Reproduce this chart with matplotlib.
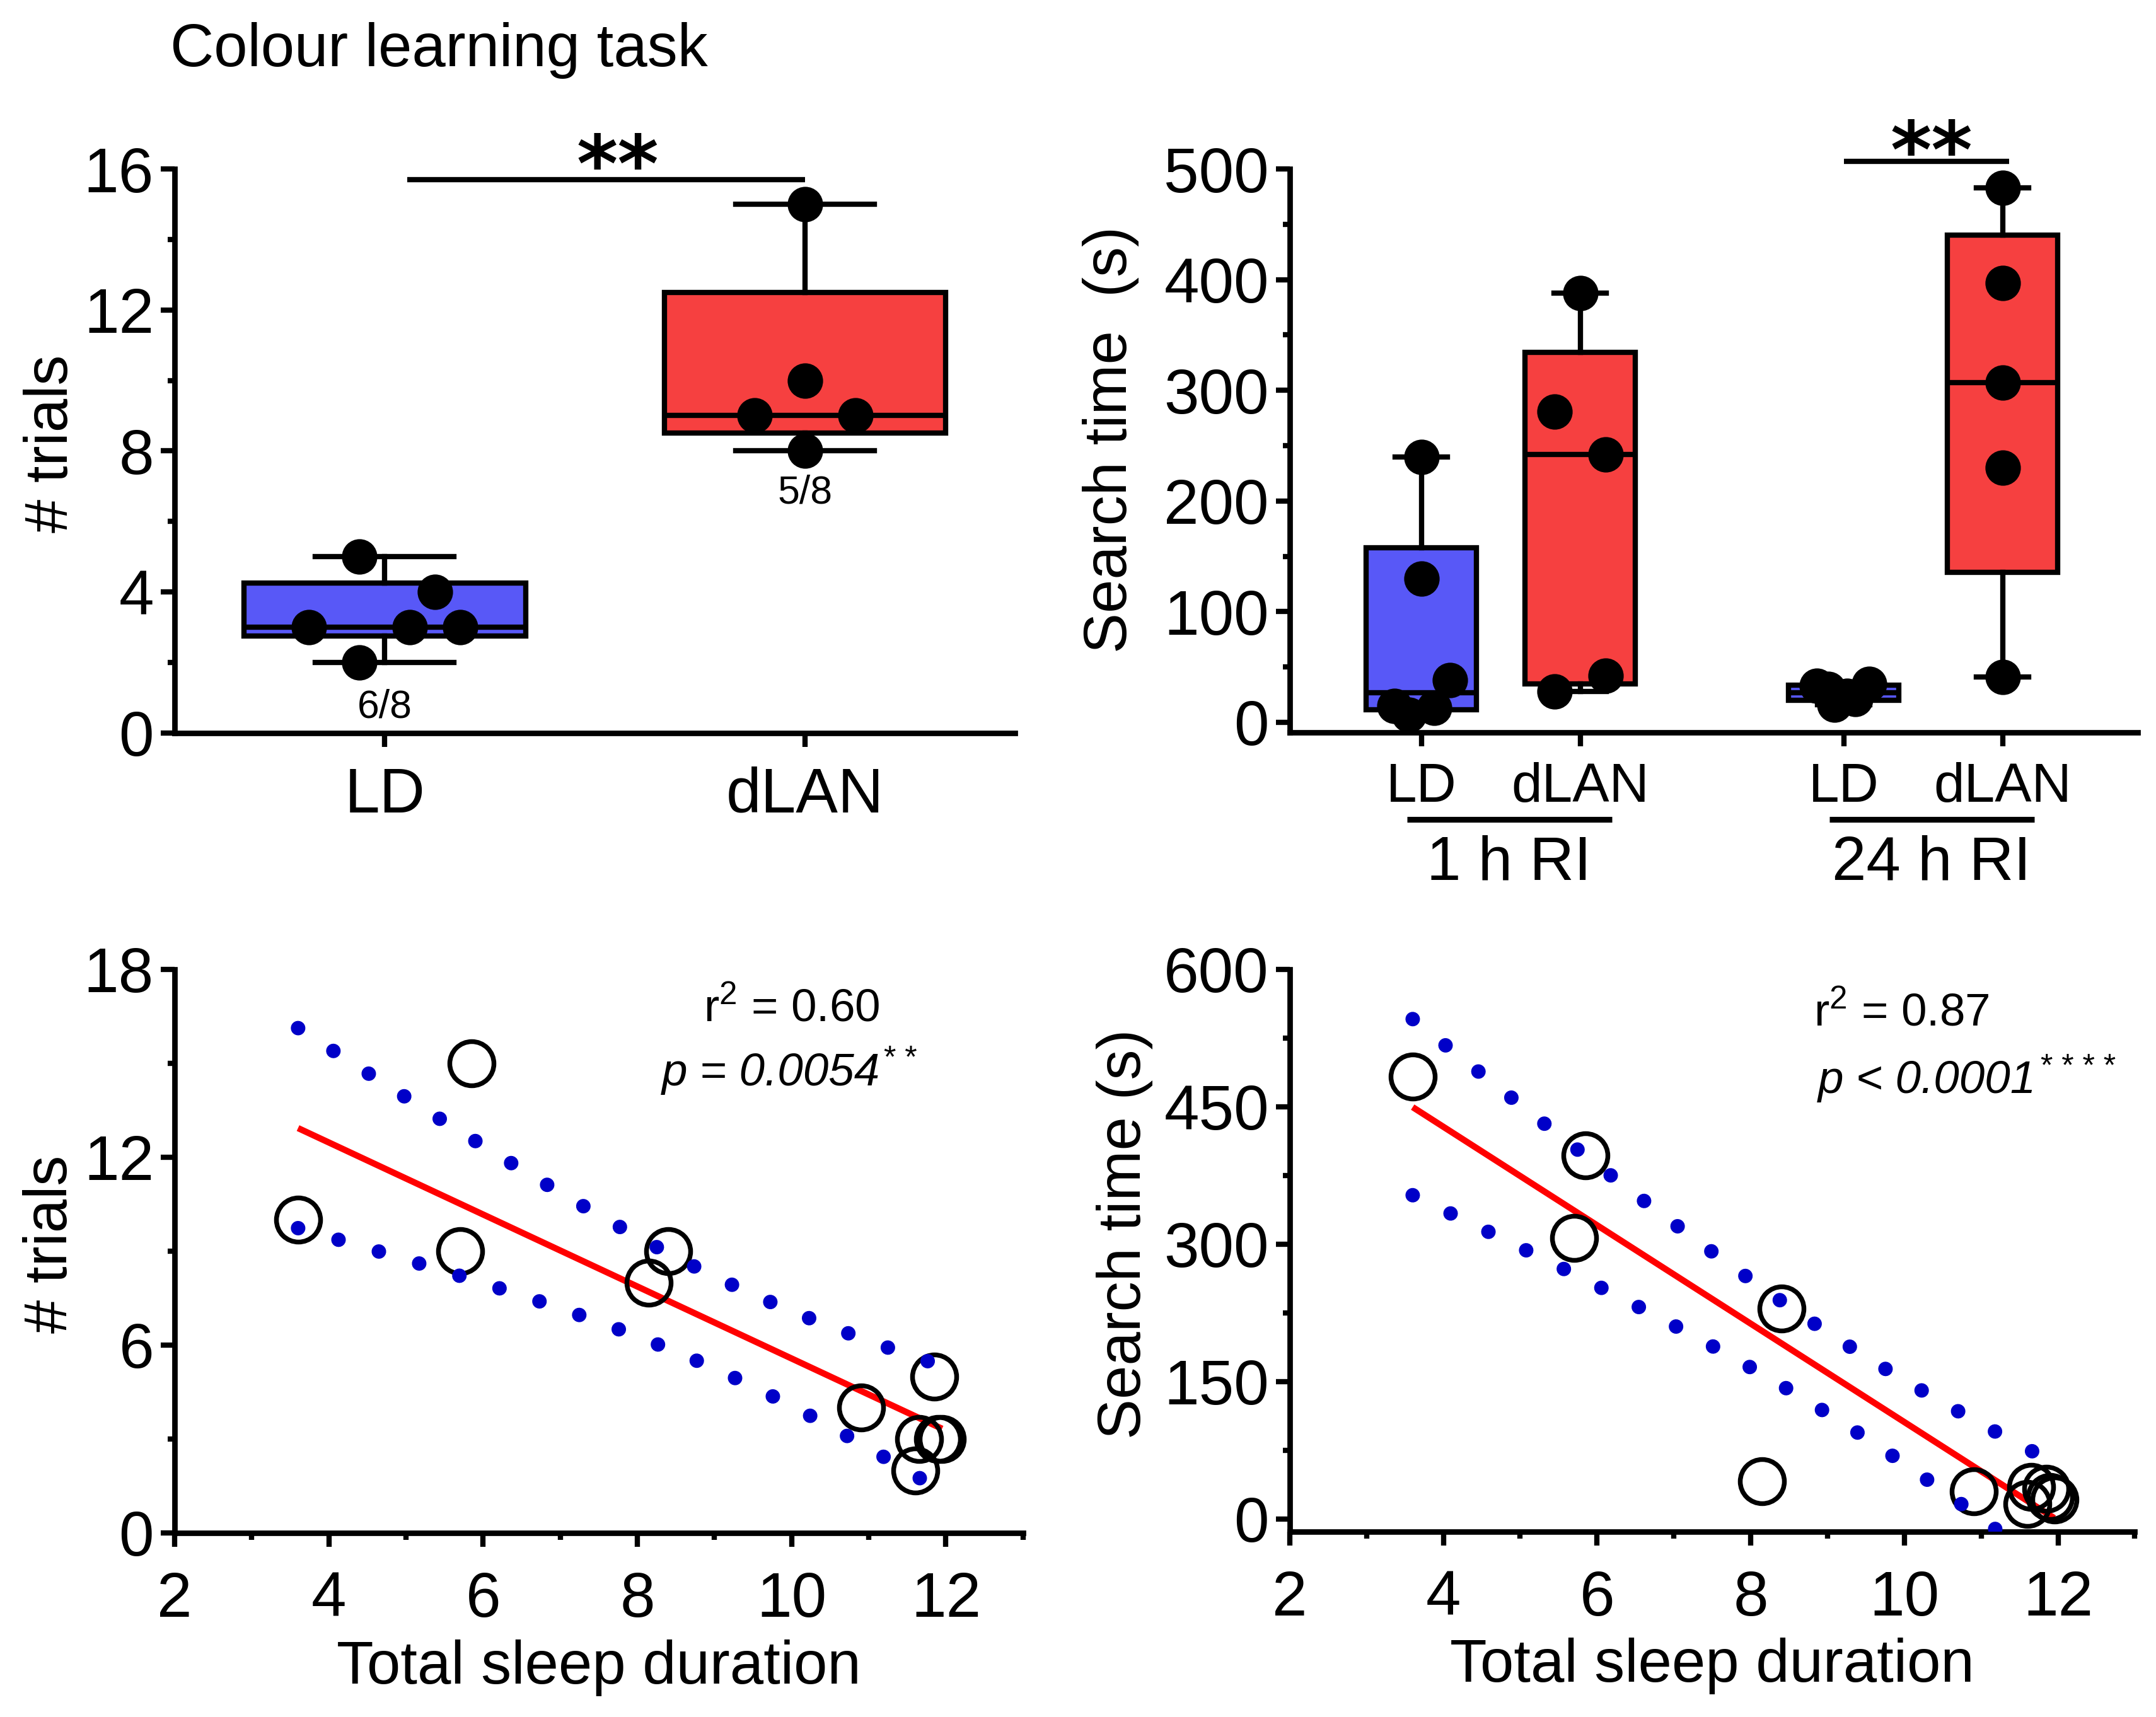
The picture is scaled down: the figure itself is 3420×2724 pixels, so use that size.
import numpy as np
import matplotlib
matplotlib.use("Agg")
import matplotlib.pyplot as plt
import matplotlib.transforms as mtrans
from matplotlib.ticker import MultipleLocator, NullLocator

plt.rcParams['font.family'] = ['Liberation Sans', 'DejaVu Sans']
plt.rcParams['mathtext.fontset'] = 'custom'
plt.rcParams['mathtext.rm'] = 'Liberation Sans'
plt.rcParams['mathtext.it'] = 'Liberation Sans:italic'
plt.rcParams['mathtext.bf'] = 'Liberation Sans:bold'

# ---- data ----
groups_a = ["LD", "dLAN"]
n_labels_a = ["6/8", "5/8"]
trials_ld = [4, 2, 3, 5, 3, 3]
trials_dlan = [10, 15, 9, 9, 8]

groups_b = ["LD", "dLAN", "LD", "dLAN"]
ri_labels = ["1 h RI", "24 h RI"]
search1_ld = [240, 130, 38, 15, 7, 13]
search1_dlan = [388, 281, 242, 42, 28]
search24_ld = [30, 16, 35, 33, 24, 21]
search24_dlan = [483, 397, 307, 230, 41]

# total sleep duration per animal (same order as above)
sleep_ld = [10.9, 11.6, 11.65, 11.85, 11.9, 11.95]
sleep_dlan = [3.6, 5.85, 5.7, 8.4, 8.15]

r2_c, p_c, sig_c = "r$^2$ = 0.60", "p = 0.0054", "* *"
r2_d, p_d, sig_d = "r$^2$ = 0.87", "p < 0.0001", "* * * *"

# horizontal scatter of dots inside the boxes
jit_a_ld = [0.12, -0.06, -0.18, -0.06, 0.06, 0.18]
jit_a_dlan = [0, 0, -0.12, 0.12, 0]
jit_b = [[0, 0, 0.18, -0.17, -0.08, 0.08],
         [0, -0.16, 0.16, 0.16, -0.16],
         [-0.1, -0.06, 0.16, -0.17, 0.02, 0.07],
         [0, 0, 0, 0, 0]]

T95 = 2.262  # t(0.975, df=9)

BLUE = "#5858F7"
RED = "#F64040"
BAND = "#0000C8"
LW = 2.1


def box_stats(vals):
    v = np.asarray(vals, float)
    q1, med, q3 = np.percentile(v, [25, 50, 75], method="weibull")
    return dict(med=med, q1=q1, q3=q3, whislo=v.min(), whishi=v.max(), fliers=[])


def fit_band(x, y):
    x = np.asarray(x, float)
    y = np.asarray(y, float)
    slope, icpt = np.polyfit(x, y, 1)
    xs = np.linspace(x.min(), x.max(), 300)
    yhat = icpt + slope * xs
    resid = y - (icpt + slope * x)
    s = np.sqrt(np.sum(resid ** 2) / (len(x) - 2))
    se = s * np.sqrt(1 / len(x) + (xs - x.mean()) ** 2 / np.sum((x - x.mean()) ** 2))
    return xs, yhat, yhat - T95 * se, yhat + T95 * se


def style(ax):
    for s in ["top", "right"]:
        ax.spines[s].set_visible(False)
    for s in ["left", "bottom"]:
        ax.spines[s].set_linewidth(LW)
    ax.tick_params(which="major", length=5.3, width=2, labelsize=24, color="k")
    ax.tick_params(which="minor", length=2.6, width=2)
    ax.tick_params(axis="y", pad=2.6)


def draw_boxes(ax, data, pos, colors, width):
    bp = ax.bxp([box_stats(d) for d in data], positions=pos, widths=width,
                capwidths=0.33, patch_artist=True, showfliers=False,
                manage_ticks=False,
                boxprops=dict(linewidth=2, edgecolor="k"),
                whiskerprops=dict(linewidth=2, color="k"),
                capprops=dict(linewidth=2, color="k"),
                medianprops=dict(linewidth=2, color="k"), zorder=2)
    for patch, c in zip(bp["boxes"], colors):
        patch.set_facecolor(c)


def stars(ax, x, y, txt, fs=30):
    off = mtrans.ScaledTranslation(0, -0.56 * fs / 72, ax.figure.dpi_scale_trans)
    ax.text(x, y, txt, transform=ax.transData + off, ha="center", va="baseline",
            fontsize=fs, family="DejaVu Sans", fontweight="bold", clip_on=False)


def p_text(ax, x, y, main, sup):
    t = ax.text(x, y, main, ha="center", va="baseline", fontsize=17.5,
                style="italic")
    ax.annotate(sup, xy=(1, 1), xycoords=t, xytext=(1.5, -3),
                textcoords="offset points", ha="left", va="center", fontsize=12)


fig = plt.figure(figsize=(11.4, 9.08), dpi=300)
axA = fig.add_axes([0.081, 0.5732, 0.3898, 0.3284])
axB = fig.add_axes([0.5982, 0.5735, 0.3933, 0.3281])
axC = fig.add_axes([0.081, 0.1072, 0.3935, 0.3282])
axD = fig.add_axes([0.5982, 0.1079, 0.392, 0.3275])

# ---- A: trials box plot ----
style(axA)
pos_a = [0, 1]
draw_boxes(axA, [trials_ld, trials_dlan], pos_a, [BLUE, RED], 0.67)
for p, vals, jit in zip(pos_a, [trials_ld, trials_dlan], [jit_a_ld, jit_a_dlan]):
    axA.plot(p + np.array(jit), vals, "o", color="k", ms=13.5, mew=0, zorder=3)
axA.set_xlim(-0.5, 1.5)
axA.set_ylim(0, 16)
axA.yaxis.set_major_locator(MultipleLocator(4))
axA.yaxis.set_minor_locator(MultipleLocator(2))
axA.xaxis.set_minor_locator(NullLocator())
axA.set_xticks(pos_a, groups_a, fontsize=24)
axA.tick_params(axis="x", pad=7.5)
axA.set_ylabel("# trials", fontsize=23, va="center")
axA.yaxis.set_label_coords(-0.146, 0.513)
axA.text(0, 0.43, n_labels_a[0], ha="center", va="baseline", fontsize=15)
axA.text(1, 6.52, n_labels_a[1], ha="center", va="baseline", fontsize=15)
axA.plot([0.053, 1.0], [15.7, 15.7], color="k", lw=2, clip_on=False,
         solid_capstyle="butt")
stars(axA, 0.554, 16.6, "**")

# ---- B: search time box plot ----
style(axB)
pos_b = [0, 1, 2.66, 3.66]
data_b = [search1_ld, search1_dlan, search24_ld, search24_dlan]
draw_boxes(axB, data_b, pos_b, [BLUE, RED, BLUE, RED], 0.695)
for p, vals, jit in zip(pos_b, data_b, jit_b):
    axB.plot(p + np.array(jit), vals, "o", color="k", ms=13.5, mew=0, zorder=3)
axB.set_xlim(-0.83, 4.51)
axB.set_ylim(-9, 500)
axB.yaxis.set_major_locator(MultipleLocator(100))
axB.yaxis.set_minor_locator(MultipleLocator(50))
axB.xaxis.set_minor_locator(NullLocator())
axB.set_xticks(pos_b, groups_b, fontsize=21)
axB.tick_params(axis="x", pad=6)
axB.set_ylabel("Search time  (s)", fontsize=23, va="center")
axB.yaxis.set_label_coords(-0.211, 0.519)
tB = mtrans.blended_transform_factory(axB.transData, axB.transAxes)
for (a, b), lab in zip([(pos_b[0], pos_b[1]), (pos_b[2], pos_b[3])], ri_labels):
    axB.plot([a - 0.09, b + 0.2], [-0.155, -0.155], transform=tB, color="k",
             lw=2.2, clip_on=False, solid_capstyle="butt")
    axB.text((a + b) / 2 + 0.05, -0.262, lab, transform=tB, ha="center",
             va="baseline", fontsize=23.5)
axB.plot([2.66, 3.7], [507, 507], color="k", lw=2, clip_on=False,
         solid_capstyle="butt")
stars(axB, 3.21, 532, "**")

# ---- C / D: regressions ----
sleep_all = sleep_dlan + sleep_ld
for ax, yvals, ylab, lims in [
        (axC, trials_dlan + trials_ld, "# trials", (0, 18, 6, 3)),
        (axD, search24_dlan + search24_ld, "Search time (s)", (-14, 600, 150, 75))]:
    style(ax)
    xs, yhat, lo, hi = fit_band(sleep_all, yvals)
    ax.plot(xs, yhat, color="#FF0000", lw=2.4, zorder=2, solid_capstyle="butt")
    ax.plot(sleep_all, yvals, "o", ms=16.8, mfc="none", mec="k", mew=1.8, zorder=3)
    for band in (lo, hi):
        ax.plot(xs, band, color=BAND, lw=5.5, ls=(0, (0.01, 2.9)),
                dash_capstyle="round", zorder=4)
    ax.set_xlim(2, 13)
    ax.set_ylim(lims[0], lims[1])
    ax.xaxis.set_major_locator(MultipleLocator(2))
    ax.xaxis.set_minor_locator(MultipleLocator(1))
    ax.yaxis.set_major_locator(MultipleLocator(lims[2]))
    ax.yaxis.set_minor_locator(MultipleLocator(lims[3]))
    ax.tick_params(axis="x", pad=9)
    ax.set_xlabel("Total sleep duration", fontsize=23, va="center")
    ax.xaxis.set_label_coords(0.5, -0.239)
    ax.set_ylabel(ylab, fontsize=23, va="center")

axC.yaxis.set_label_coords(-0.146, 0.512)
axD.yaxis.set_label_coords(-0.195, 0.529)
axC.text(10.0, 16.35, r2_c, ha="center", va="baseline", fontsize=17.5)
p_text(axC, 9.73, 14.3, p_c, sig_c)
axD.text(9.96, 539, r2_d, ha="center", va="baseline", fontsize=17.5)
p_text(axD, 10.3, 465, p_d, sig_d)

fig.text(0.079, 0.9615, "Colour learning task", fontsize=23, va="baseline")

fig.savefig("out.png", dpi=300)
